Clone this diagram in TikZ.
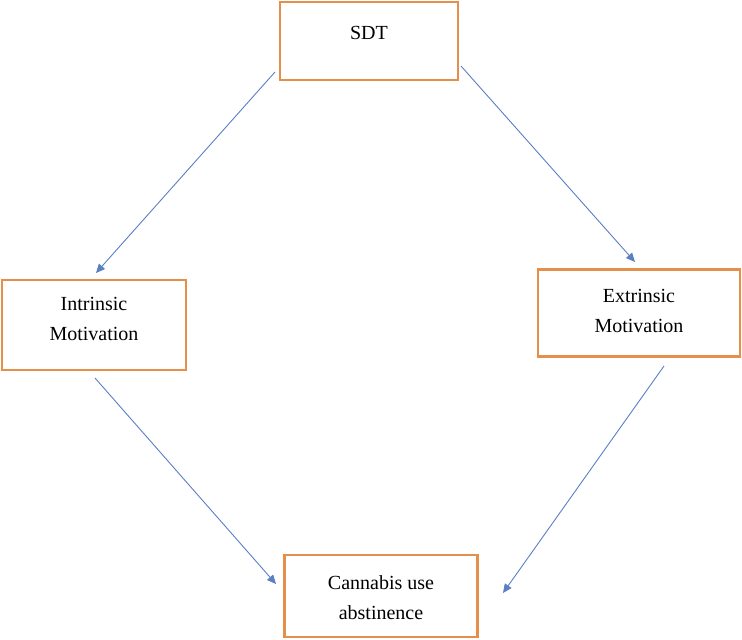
\documentclass[tikz,border=0pt]{standalone}
\usepackage{fontspec}
\setmainfont{Liberation Serif}
\usetikzlibrary{arrows.meta}
\definecolor{boxc}{HTML}{E4904A}
\definecolor{arrc}{HTML}{5B7FC4}
\begin{document}
\begin{tikzpicture}[x=1pt,y=-1pt,
 box/.style={draw=boxc,line width=2.8pt,inner sep=0pt},
 txt/.style={align=center,font=\fontsize{20}{30}\selectfont,inner sep=0pt},
 arr/.style={draw=arrc,line width=0.9pt,-{Triangle[length=9pt,width=8pt]}}]
\useasboundingbox (0,0) rectangle (742,640);
\node[box,minimum width=178,minimum height=78] (sdt) at (369,41) {};
\node[box,minimum width=184,minimum height=90] (im) at (94,325) {};
\node[box,minimum width=202,minimum height=87] (em) at (639,313) {};
\node[box,minimum width=193,minimum height=82] (cu) at (381,596) {};
\node[txt] (tsdt) at (369,33) {SDT};
\node[txt] (tim) at (94,319) {Intrinsic\\Motivation};
\node[txt] (tem) at (639,311) {Extrinsic\\Motivation};
\node[txt] (tcu) at (381,598) {Cannabis use\\abstinence};
\coordinate (a1) at (275,72); \coordinate (b1) at (96,273);
\coordinate (a2) at (461,66); \coordinate (b2) at (635,262);
\coordinate (a3) at (95,378); \coordinate (b3) at (276,584);
\coordinate (a4) at (664,366); \coordinate (b4) at (503,593);
\draw[arr] (a1) -- (b1);
\draw[arr] (a2) -- (b2);
\draw[arr] (a3) -- (b3);
\draw[arr] (a4) -- (b4);
\end{tikzpicture}
\end{document}
